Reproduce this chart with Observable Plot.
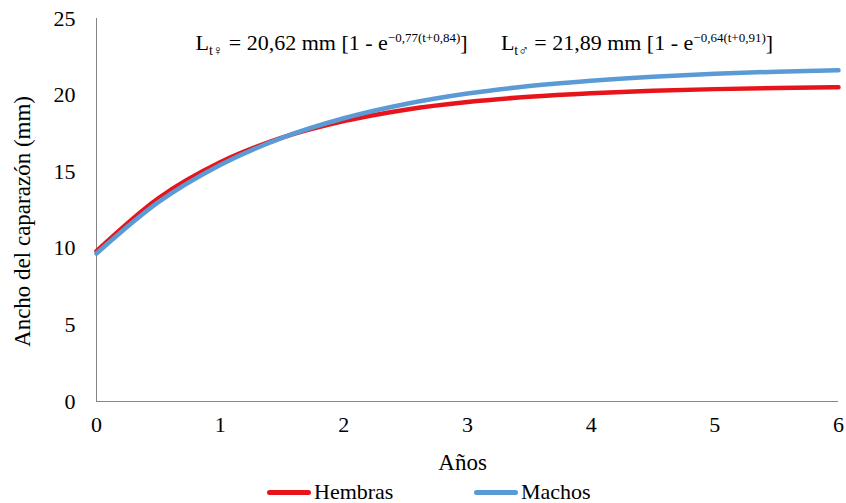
<!DOCTYPE html>
<html>
<head>
<meta charset="utf-8">
<script src="https://cdn.jsdelivr.net/npm/d3@7"></script>
<script src="https://cdn.jsdelivr.net/npm/@observablehq/plot@0.6"></script>
<style>
  body { margin: 0; background: #fff; font-family: "Liberation Serif", "Times New Roman", serif; }
  #chart { width: 846px; }
  .legend { position: relative; height: 28px; width: 846px; font-size: 22px; color: #000; }
  .legend .sw { position: absolute; top: 15px; height: 5px; width: 44px; border-radius: 3px; }
  .legend .lb { position: absolute; top: 5px; line-height: 24px; }
</style>
</head>
<body>
<div id="chart"></div>
<div class="legend">
  <div class="sw" style="left:267px;background:#e8141b"></div><div class="lb" style="left:314px">Hembras</div>
  <div class="sw" style="left:474px;background:#5b9bd5"></div><div class="lb" style="left:521px">Machos</div>
</div>
<script>
const years = [0, 0.5, 1, 1.5, 2, 2.5, 3, 3.5, 4, 4.5, 5, 5.5, 6];
const hembras = [9.82, 13.27, 15.62, 17.22, 18.30, 19.05, 19.55, 19.89, 20.12, 20.28, 20.39, 20.46, 20.51];
const machos  = [9.66, 13.01, 15.44, 17.21, 18.49, 19.42, 20.10, 20.59, 20.94, 21.20, 21.39, 21.53, 21.63];
const xTicks = [0, 1, 2, 3, 4, 5, 6];
const yTicks = [0, 5, 10, 15, 20, 25];
const seriesNames = ["Hembras", "Machos"];
const colors = ["#e8141b", "#5b9bd5"];

const data = [];
years.forEach((t, i) => {
  data.push({t, v: hembras[i], s: seriesNames[0]});
  data.push({t, v: machos[i], s: seriesNames[1]});
});

const font = "'Liberation Serif', 'Times New Roman', serif";

const plot = Plot.plot({
  width: 846,
  height: 475,
  marginLeft: 96,
  marginRight: 8,
  marginTop: 18,
  marginBottom: 74,
  style: { fontFamily: font, fontSize: "22px", color: "#000", background: "#fff", overflow: "visible" },
  x: { domain: [0, 6] },
  y: { domain: [0, 25] },
  color: { domain: seriesNames, range: colors },
  marks: [
    Plot.axisY({ ticks: yTicks, tickSize: 0, tickPadding: 21, label: null, fontSize: 22, tickFormat: d => String(d) }),
    Plot.axisX({ ticks: xTicks, tickSize: 0, tickPadding: 15, label: null, fontSize: 22, tickFormat: d => String(d) }),
    Plot.ruleX([0], { stroke: "#868686", strokeWidth: 1 }),
    Plot.ruleY([0], { stroke: "#868686", strokeWidth: 1 }),
    Plot.line(data, { x: "t", y: "v", z: "s", stroke: "s", strokeWidth: 4.5, curve: "monotone-x", strokeLinecap: "round" }),
    Plot.text(["Años"], { x: 2.96, frameAnchor: "bottom", dy: 61, lineAnchor: "middle", fontSize: 23 }),
    Plot.text(["Ancho del caparazón (mm)"], { y: 11.75, frameAnchor: "left", dx: -74, rotate: -90, textAnchor: "middle", lineAnchor: "middle", fontSize: 23 }),
    Plot.text(["eq1"], { x: 0.8, y: 23.43, textAnchor: "start", lineAnchor: "middle", fontSize: 22, className: "eq1" }),
    Plot.text(["eq2"], { x: 3.27, y: 23.43, textAnchor: "start", lineAnchor: "middle", fontSize: 22, className: "eq2" })
  ]
});

function eq(sel, sym, rest, sup) {
  const t = d3.select(plot).select(sel).select("text");
  t.text(null);
  t.append("tspan").text("L");
  t.append("tspan").attr("font-size", 14).attr("dy", 5).text("t" + sym);
  t.append("tspan").attr("dy", -5).text(" = " + rest + " [1 - e");
  t.append("tspan").attr("font-size", 13).attr("dy", -8).text(sup);
  t.append("tspan").attr("dy", 8).text("]");
}
eq(".eq1", "♀", "20,62 mm", "−0,77(t+0,84)");
eq(".eq2", "♂", "21,89 mm", "−0,64(t+0,91)");

document.getElementById("chart").appendChild(plot);
</script>
</body>
</html>
